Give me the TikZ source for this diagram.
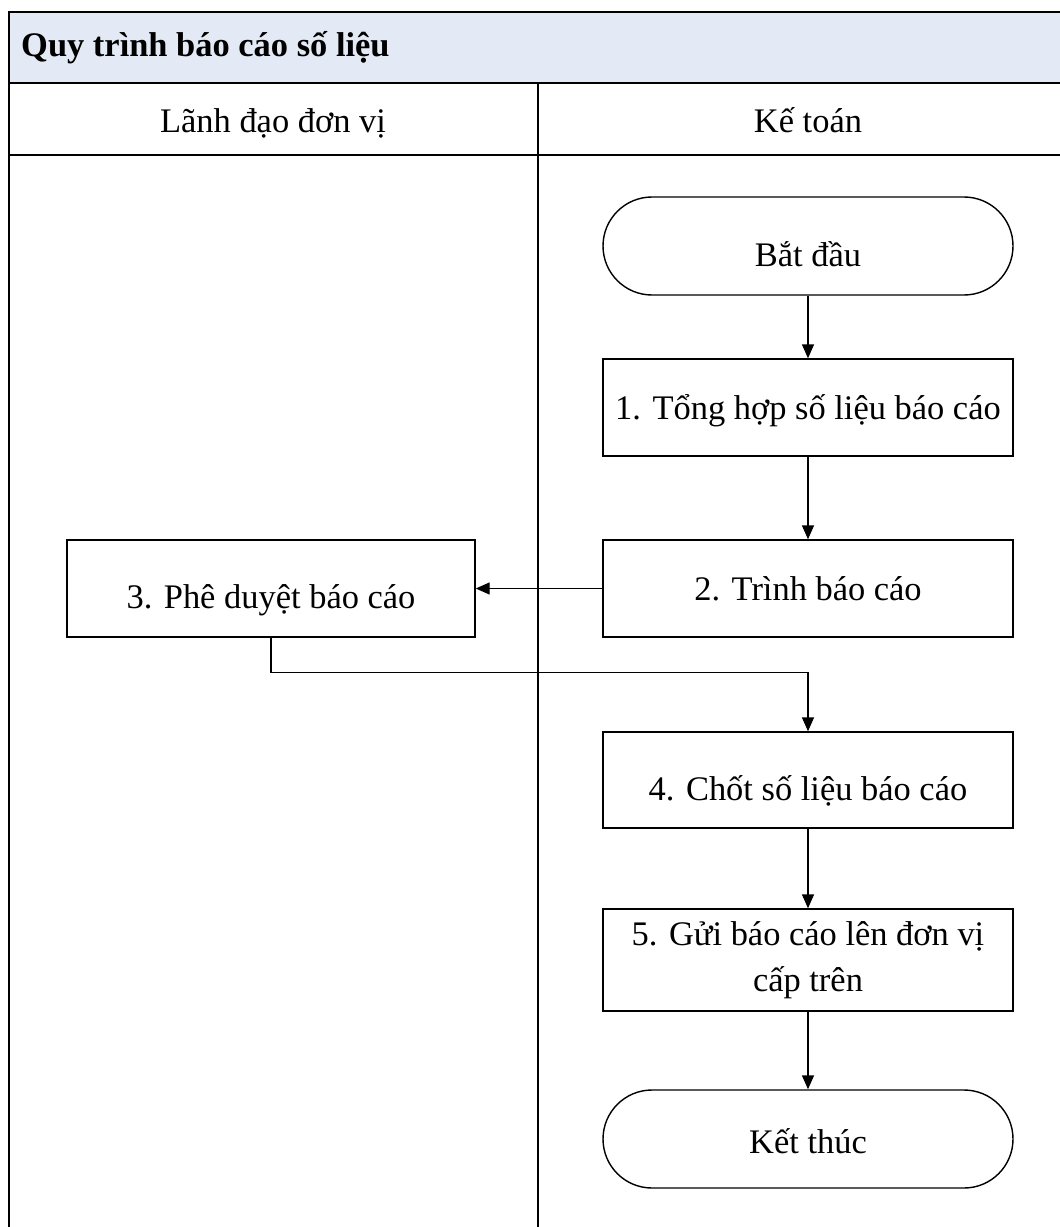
\documentclass[tikz,border=0pt]{standalone}
\usepackage{fontspec}
\setmainfont{Liberation Serif}
\usetikzlibrary{arrows.meta}
\definecolor{titlebg}{RGB}{228,234,245}
\tikzset{
  lane/.style={line width=1.1pt},
  oneline/.style={text height=13.4pt, text depth=0pt},
  lowline/.style={text height=23pt, text depth=0pt},
  midline/.style={text height=16pt, text depth=0pt},
  stepbox/.style={draw,line width=0.8pt,minimum width=8.2cm,minimum height=1.94cm,align=center,inner sep=2pt,font=\fontsize{19.6}{26}\selectfont},
  term/.style={stepbox,rounded corners=0.98cm,minimum height=1.96cm},
  flow/.style={line width=0.8pt,-{Triangle[length=0.28cm,width=0.24cm]}}
}

\begin{document}
\begin{tikzpicture}
    \useasboundingbox (0,0) rectangle (21.18,-24.54);
    \fill [white] (0,0) rectangle (21.18,-24.54);

    \fill [titlebg] (0.18,-0.24) rectangle (21.56,-1.66);
    \draw [lane] (0.18,-25) -- (0.18,-0.24) -- (21.56,-0.24);
    \draw [lane] (0.18,-1.66) -- (21.56,-1.66);
    \draw [lane] (0.18,-3.10) -- (21.56,-3.10);
    \draw [lane] (10.76,-1.66) -- (10.76,-25);

    \node [anchor=west, font=\fontsize{19.6}{24}\selectfont\bfseries] (title) at (0.30,-0.95) {Quy trình báo cáo số liệu};
    \node [text height=14.8pt, text depth=0pt, font=\fontsize{19.6}{24}\selectfont] (lanelead) at (5.46,-2.38) {Lãnh đạo đơn vị};
    \node [text height=14.8pt, text depth=0pt, font=\fontsize{19.6}{24}\selectfont] (laneacc) at (16.16,-2.38) {Kế toán};

    \node [term, lowline] (start) at (16.16,-4.92) {Bắt đầu};
    \node [stepbox, oneline] (sum) at (16.16,-8.15) {1. Tổng hợp số liệu báo cáo};
    \node [stepbox, oneline] (submit) at (16.16,-11.77) {2. Trình báo cáo};
    \node [stepbox, lowline, minimum width=8.16cm] (approve) at (5.42,-11.77) {3. Phê duyệt báo cáo};
    \node [stepbox, lowline, minimum height=1.92cm] (close) at (16.16,-15.6) {4. Chốt số liệu báo cáo};
    \node [stepbox, minimum height=2.04cm] (send) at (16.16,-19.2) {5. Gửi báo cáo lên đơn vị\\cấp trên};
    \node [term, midline] (finish) at (16.16,-22.78) {Kết thúc};

    \draw [flow] (start) -- (sum);
    \draw [flow] (sum) -- (submit);
    \draw [flow] (submit) -- (approve);
    \draw [flow] (approve.south) -- ++(0,-0.7) -| (close.north);
    \draw [flow] (close) -- (send);
    \draw [flow] (send) -- (finish);
\end{tikzpicture}
\end{document}
